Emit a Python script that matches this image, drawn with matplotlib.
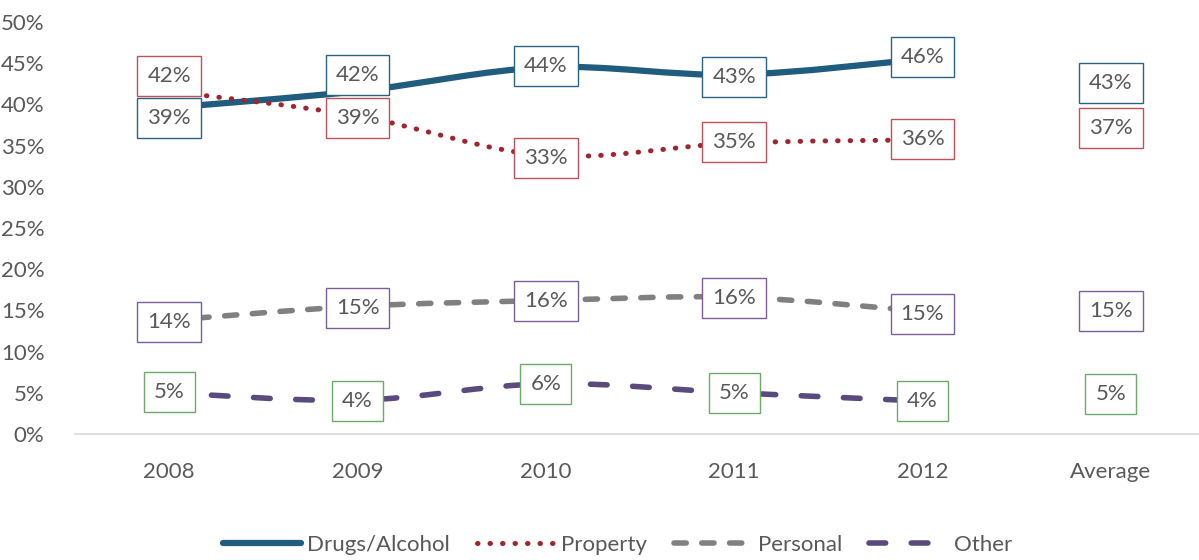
import matplotlib.pyplot as plt
from matplotlib.path import Path
from matplotlib.patches import PathPatch
from matplotlib.lines import Line2D

plt.rcParams['font.family'] = ['Lato', 'DejaVu Sans']

categories = ["2008", "2009", "2010", "2011", "2012", "Average"]

drugs = [39.6, 41.6, 44.5, 43.6, 45.5]
prop = [41.6, 38.6, 33.8, 35.3, 35.7]
personal = [13.8, 15.5, 16.2, 16.6, 14.9]
other = [5.0, 4.1, 6.1, 5.0, 4.0]

drugs_labels = ["39%", "42%", "44%", "43%", "46%", "43%"]
prop_labels = ["42%", "39%", "33%", "35%", "36%", "37%"]
personal_labels = ["14%", "15%", "16%", "16%", "15%", "15%"]
other_labels = ["5%", "4%", "6%", "5%", "4%", "5%"]

# where the boxed labels sit (data units)
drugs_label_y = [38.3, 43.6, 44.7, 43.3, 45.8, 42.6]
prop_label_y = [43.4, 38.3, 33.5, 35.4, 35.8, 37.1]
personal_label_y = [13.6, 15.3, 16.1, 16.5, 14.6, 14.9]
other_label_y = [5.1, 4.0, 6.1, 5.0, 4.0, 4.9]


def smooth_path(xs, ys):
    # excel-like smoothed line through the points
    pts = list(zip(xs, ys))
    verts = [pts[0]]
    codes = [Path.MOVETO]
    n = len(pts)
    for i in range(n - 1):
        p0 = pts[i - 1] if i > 0 else pts[i]
        p1 = pts[i]
        p2 = pts[i + 1]
        p3 = pts[i + 2] if i + 2 < n else pts[i + 1]
        c1 = (p1[0] + (p2[0] - p0[0]) / 6, p1[1] + (p2[1] - p0[1]) / 6)
        c2 = (p2[0] - (p3[0] - p1[0]) / 6, p2[1] - (p3[1] - p1[1]) / 6)
        verts += [c1, c2, p2]
        codes += [Path.CURVE4] * 3
    return Path(verts, codes)


fig = plt.figure(figsize=(11.99, 5.6), dpi=100)
ax = fig.add_axes([0.0626, 0.225, 0.9424, 0.7357])

series = [
    ("Drugs/Alcohol", drugs, drugs_labels, drugs_label_y, "#1F5C7E", "-", 4.5, "#2B6383"),
    ("Property", prop, prop_labels, prop_label_y, "#A0252F", (0, (0.1, 2.4)), 3.6, "#C0505A"),
    ("Personal", personal, personal_labels, personal_label_y, "#808080", (0, (2.2, 2.8)), 4.0, "#7A5F9A"),
    ("Other", other, other_labels, other_label_y, "#5B4A7D", (0, (3.0, 4.6)), 4.0, "#70A96B"),
]

xs = list(range(len(categories) - 1))
handles = []
for name, vals, labels, label_y, color, ls, lw, box_color in series:
    patch = PathPatch(smooth_path(xs, vals), facecolor="none", edgecolor=color,
                      linewidth=lw, linestyle=ls, capstyle="round", zorder=2)
    ax.add_patch(patch)
    for i, (lab, ly) in enumerate(zip(labels, label_y)):
        ax.text(i, ly, lab, ha="center", va="center", fontsize=16, color="#595959",
                zorder=5,
                bbox=dict(boxstyle="square,pad=0.45", facecolor="white",
                          edgecolor=box_color, linewidth=1.0))
    handles.append(Line2D([0], [0], color=color, linewidth=lw, linestyle=ls,
                          solid_capstyle="round", dash_capstyle="round", label=name))

ax.set_xlim(-0.5, 5.5)
ax.set_ylim(0, 50)
ax.set_xticks(range(len(categories)))
ax.set_xticklabels(categories, fontsize=16, color="#595959")
ax.set_yticks(range(0, 51, 5))
ax.set_yticklabels([f"{v}%" for v in range(0, 51, 5)], fontsize=16, color="#595959")
ax.tick_params(axis="both", length=0)
ax.tick_params(axis="x", pad=20)
ax.tick_params(axis="y", pad=22)
for side in ["top", "right", "left"]:
    ax.spines[side].set_visible(False)
ax.spines["bottom"].set_color("#D9D9D9")
ax.spines["bottom"].set_linewidth(1.2)

fig.legend(handles=handles, loc="center", bbox_to_anchor=(0.515, 0.027), ncol=4,
           frameon=False, fontsize=16, handlelength=3.5, columnspacing=1.2,
           handletextpad=0.3, labelcolor="#595959")

fig.savefig("out.png", dpi=100)
